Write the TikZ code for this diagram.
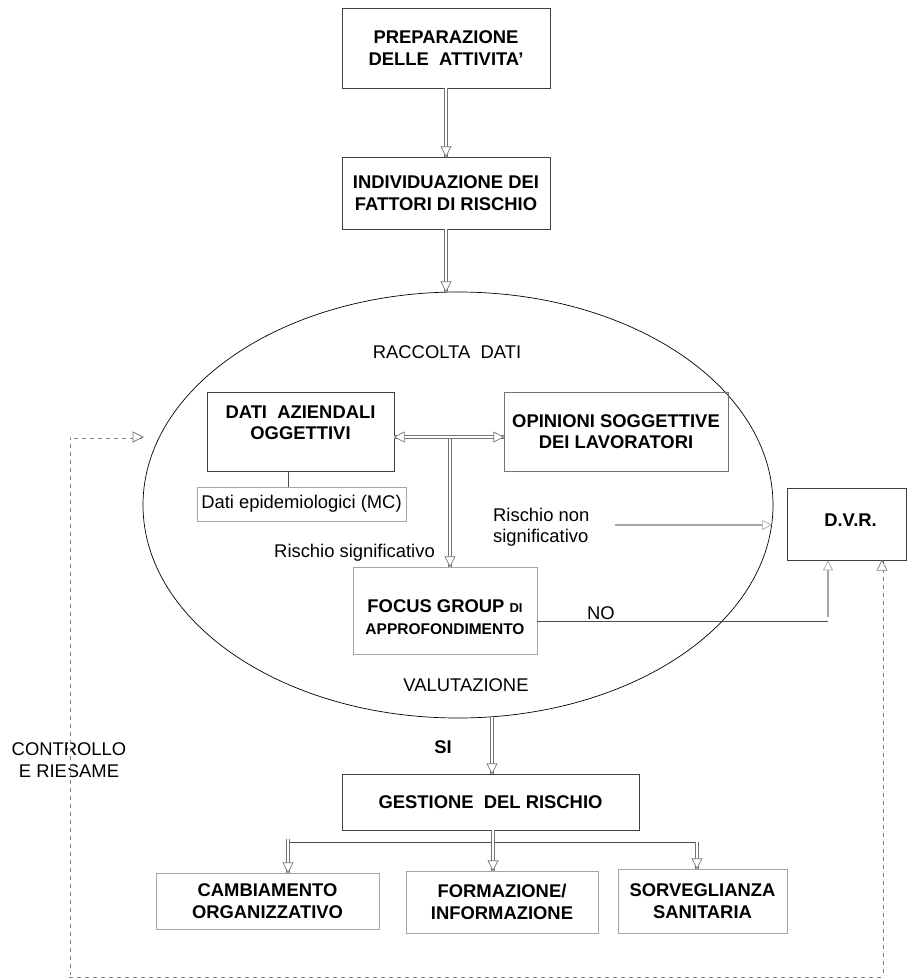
\documentclass[tikz,border=0pt]{standalone}
\usepackage{fontspec}
\setmainfont{Liberation Sans}
\usetikzlibrary{shapes.geometric,arrows.meta,decorations.markings}

\tikzset{
	txt/.style = {font=\fontsize{18.4}{21.5}\selectfont, inner sep=0pt, align=center},
	bfnode/.style = {txt, font=\fontsize{18.4}{21.5}\selectfont\bfseries},
	box/.style = {bfnode, rectangle, draw=black!75, line width=0.7pt},
	lbox/.style = {box, draw=black!35},
	link/.style = {draw=black!70, line width=0.7pt},
	sgl/.style = {draw=black!35, line width=1.3pt, -{Triangle[open, length=10pt, width=10pt, line width=0.7pt]}},
	tipend/.style = {postaction={decorate, decoration={markings, mark=at position 1 with {\draw[solid, draw=black!55, fill=white, line width=0.7pt] (0pt,0pt) -- (-10pt,5pt) -- (-10pt,-5pt) -- cycle;}}}},
	tipstart/.style = {postaction={decorate, decoration={markings, mark=at position 0 with {\draw[solid, draw=black!55, fill=white, line width=0.7pt] (0pt,0pt) -- (10pt,5pt) -- (10pt,-5pt) -- cycle;}}}},
	dbl/.style = {draw=black!55, line width=0.8pt, double=white, double distance=2.2pt, tipend},
	review/.style = {draw=black!50, line width=0.8pt, double=white, double distance=1.4pt, dash pattern=on 4pt off 4pt, tipend}
}

\begin{document}
\begin{tikzpicture}[x=1pt, y=-1pt]
	\useasboundingbox (0,0) rectangle (909,979);

	\node[box, minimum width=208pt, minimum height=80pt] (prep) at (446,48) {PREPARAZIONE\\DELLE\ \ ATTIVITA'};
	\node[box, minimum width=208pt, minimum height=72pt] (indiv) at (446,193) {INDIVIDUAZIONE DEI\\FATTORI DI RISCHIO};

	\node[ellipse, draw=black, line width=0.7pt, minimum width=630pt, minimum height=426pt, inner sep=0pt] (valut) at (458,505) {};
	\node[txt] (raccolta) at (447,352) {RACCOLTA\ \ DATI};
	\node[txt] (valtxt) at (466,685) {VALUTAZIONE};

	\node[box, minimum width=187pt, minimum height=79pt, label={[bfnode, yshift=8.5pt]center:{DATI\ \ AZIENDALI\\OGGETTIVI}}] (dati) at (300.5,431.5) {};
	\node[lbox, txt, minimum width=209pt, minimum height=34pt] (epi) at (301.5,504) {Dati epidemiologici (MC)};
	\node[box, draw=black!55, minimum width=224pt, minimum height=79pt] (opin) at (616,431.5) {OPINIONI SOGGETTIVE\\DEI LAVORATORI};
	\node[txt] (rsig) at (354.5,553) {Rischio significativo};
	\node[txt, anchor=west, align=left] (rnon) at (493,527) {Rischio non\\significativo};
	\node[lbox, minimum width=184pt, minimum height=87pt, label={[bfnode, yshift=-6.5pt]center:{FOCUS GROUP {\fontsize{13}{21.5}\selectfont DI}\\\fontsize{15.5}{18}\selectfont APPROFONDIMENTO}}] (focus) at (445,610.5) {};
	\node[txt] (notxt) at (601,613) {NO};

	\node[box, minimum width=119pt, minimum height=72pt, label={[bfnode, xshift=4pt, yshift=4pt]center:D.V.R.}] (dvr) at (846.5,524) {};

	\node[bfnode] (si) at (443,747) {SI};
	\node[box, minimum width=297pt, minimum height=56pt] (gest) at (490.5,802) {GESTIONE\ \ DEL RISCHIO};
	\node[lbox, minimum width=223pt, minimum height=56pt] (camb) at (267.5,901) {CAMBIAMENTO\\ORGANIZZATIVO};
	\node[lbox, minimum width=192pt, minimum height=62pt] (form) at (502,902) {FORMAZIONE/\\INFORMAZIONE};
	\node[lbox, minimum width=169pt, minimum height=64pt] (sorv) at (702.5,901) {SORVEGLIANZA\\SANITARIA};

	\node[txt] (ctrl) at (69,760) {CONTROLLO\\E RIESAME};

	\coordinate (jn) at (450,437);
	\coordinate (rnonstart) at (615,525);
	\coordinate (rnonend) at (772,525);
	\coordinate (nocorner) at (828,621);
	\coordinate (sitop) at (492,717);
	\coordinate (split) at (493,842);
	\coordinate (splitl) at (288,842);
	\coordinate (splitr) at (697,842);
	\coordinate (fbl) at (69,976);
	\coordinate (fbtip) at (143,437);

	\draw[dbl] (prep) -- (indiv);
	\draw[dbl] (indiv.south) -- (indiv.south |- valut.north);
	\draw[dbl] (jn) -- (jn |- focus.north);
	\draw[dbl, tipstart] (dati.east |- jn) -- (opin.west |- jn);
	\draw[link] ([xshift=-12.5pt]dati.south) -- ([xshift=-13.5pt]epi.north);
	\draw[sgl] (rnonstart) -- (rnonend);
	\draw[link] (focus.east |- nocorner) -- (nocorner);
	\draw[sgl] ([yshift=4pt]nocorner) -- (nocorner |- dvr.south);
	\draw[dbl] (sitop) -- (sitop |- gest.north);
	\draw[link] (splitl) -- (splitr);
	\draw[dbl] (split |- gest.south) -- (split |- form.north);
	\draw[dbl] ([yshift=3pt]splitl) -- (splitl |- camb.north);
	\draw[dbl] (splitr) -- (splitr |- sorv.north);
	\draw[review] (fbl) |- (fbtip);
	\draw[review] (fbl) -| ([xshift=35.5pt]dvr.south);
\end{tikzpicture}
\end{document}
